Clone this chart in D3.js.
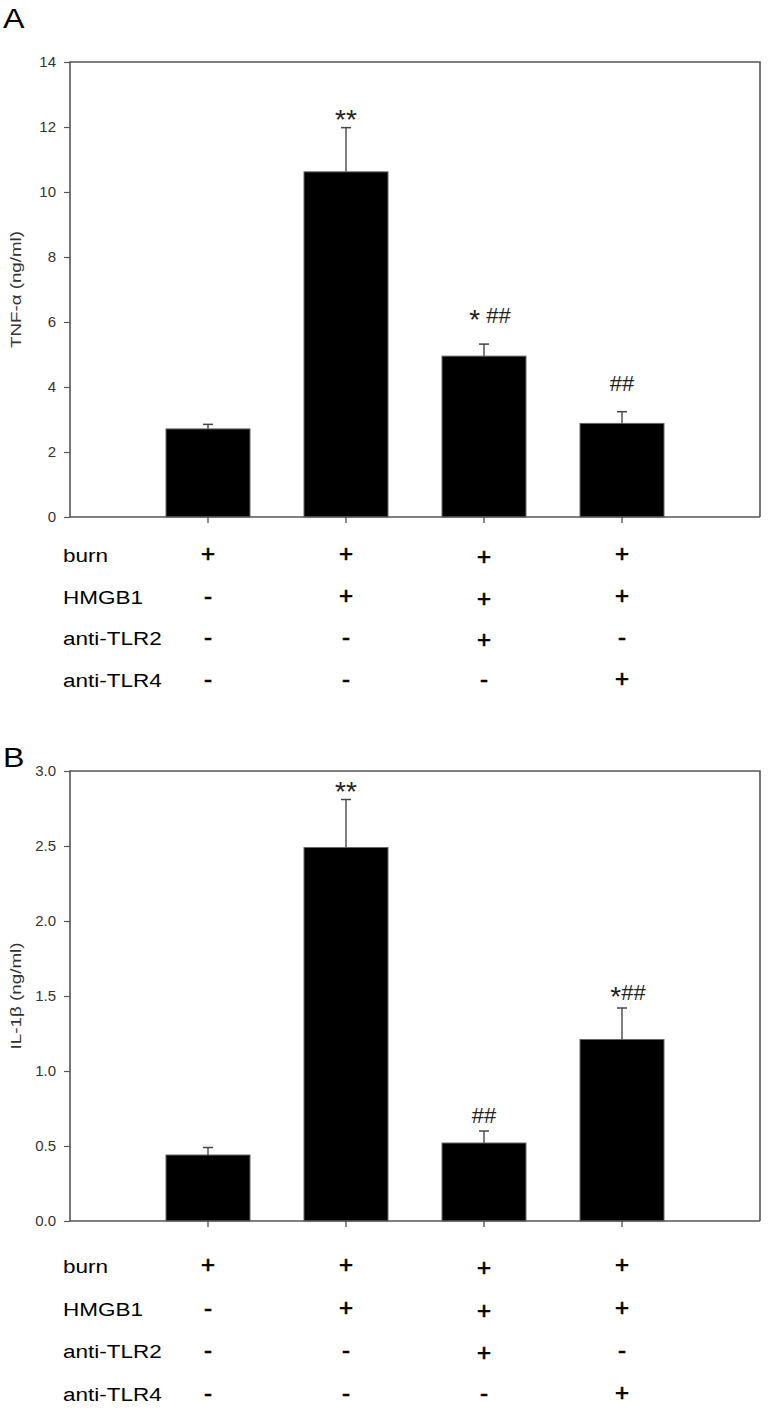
<!DOCTYPE html>
<html>
<head>
<meta charset="utf-8">
<script src="https://cdn.jsdelivr.net/npm/d3@7"></script>
<style>
  body { margin: 0; background: #fff; }
  text { font-family: "Liberation Sans", Arial, sans-serif; }
</style>
</head>
<body>
<div id="chart"></div>
<script>
// values
const groups = [1, 2, 3, 4];
const tnfMean = [2.71, 10.62, 4.95, 2.88];
const tnfErr = [0.14, 1.36, 0.37, 0.36];
const tnfMarks = ["", "**", "* ##", "##"];
const tnfTicks = [0, 2, 4, 6, 8, 10, 12, 14];

const ilMean = [0.44, 2.49, 0.52, 1.21];
const ilErr = [0.05, 0.32, 0.08, 0.21];
const ilMarks = ["", "**", "##", "*##"];
const ilTicks = [0, 0.5, 1.0, 1.5, 2.0, 2.5, 3.0];

const rowLabels = ["burn", "HMGB1", "anti-TLR2", "anti-TLR4"];
const treatments = [
  ["+", "+", "+", "+"],
  ["-", "+", "+", "+"],
  ["-", "-", "+", "-"],
  ["-", "-", "-", "+"]
];

const [width, height] = [768, 1413];

const svg = d3.select("#chart")
  .append("svg")
  .attr("width", width)
  .attr("height", height);

const x = d3.scaleLinear()
  .domain([0, 5])
  .range([70, 760]);

const barW = 84;

const panels = [
  { letter: "A", letterY: 28, top: 62, bottom: 517, max: 14, ticks: tnfTicks, fmt: d3.format("d"),
    title: "TNF-α (ng/ml)", titleLen: 117, mean: tnfMean, err: tnfErr, marks: tnfMarks,
    markGap: 21, rowStart: 45, rowStep: 41.7 },
  { letter: "B", letterY: 767, top: 771, bottom: 1221, max: 3, ticks: ilTicks, fmt: d3.format(".1f"),
    title: "IL-1β (ng/ml)", titleLen: 107, mean: ilMean, err: ilErr, marks: ilMarks,
    markGap: 8, rowStart: 52, rowStep: 42.7 }
];

panels.forEach(p => {
  const y = d3.scaleLinear()
    .domain([0, p.max])
    .range([p.bottom, p.top]);

  const g = svg.append("g");

  // panel letter
  g.append("text")
    .attr("transform", `translate(3,${p.letterY}) scale(1.15,1)`)
    .attr("font-size", 28)
    .attr("fill", "#000")
    .text(p.letter);

  // y axis
  const yAxis = d3.axisLeft(y)
    .tickValues(p.ticks)
    .tickFormat(p.fmt)
    .tickSize(6)
    .tickPadding(8);
  const ya = g.append("g")
    .attr("transform", "translate(70,0)")
    .call(yAxis);
  ya.select(".domain").remove();
  ya.selectAll(".tick line").attr("stroke", "#555").attr("stroke-width", 1.2);
  ya.selectAll(".tick text")
    .attr("font-size", 15)
    .attr("fill", "#333")
    .attr("font-family", "'Liberation Sans', Arial, sans-serif");

  // bars
  g.selectAll("rect.bar")
    .data(groups)
    .enter().append("rect")
    .attr("class", "bar")
    .attr("x", d => x(d) - barW / 2)
    .attr("width", barW)
    .attr("y", (d, i) => y(p.mean[i]))
    .attr("height", (d, i) => y(0) - y(p.mean[i]))
    .attr("fill", "#000")
    .attr("stroke", "#666")
    .attr("stroke-width", 1);

  // error bars
  g.selectAll("line.err")
    .data(groups)
    .enter().append("line")
    .attr("class", "err")
    .attr("x1", d => x(d))
    .attr("x2", d => x(d))
    .attr("y1", (d, i) => y(p.mean[i]))
    .attr("y2", (d, i) => y(p.mean[i] + p.err[i]))
    .attr("stroke", "#555")
    .attr("stroke-width", 1.5);
  g.selectAll("line.cap")
    .data(groups)
    .enter().append("line")
    .attr("class", "cap")
    .attr("x1", d => x(d) - 5)
    .attr("x2", d => x(d) + 5)
    .attr("y1", (d, i) => y(p.mean[i] + p.err[i]))
    .attr("y2", (d, i) => y(p.mean[i] + p.err[i]))
    .attr("stroke", "#444")
    .attr("stroke-width", 1.5);

  // significance marks, asterisks a bit larger than the hashes
  // (dy only, so the whole mark stays one text chunk for centring)
  g.selectAll("text.mark")
    .data(groups)
    .enter().append("text")
    .attr("class", "mark")
    .attr("x", (d, i) => x(d) + (p.marks[i].length > 2 ? 6 : 0))
    .attr("text-anchor", "middle")
    .attr("fill", "#222")
    .each(function (d, i) {
      const m = p.marks[i];
      const hasHash = m.includes("#");
      const base = y(p.mean[i] + p.err[i]) - (hasHash ? p.markGap : -1);
      const t = d3.select(this).attr("y", base);
      let cur = 0;
      m.split("").forEach(c => {
        const want = (c === "*" && hasHash) ? 6 : 0;
        t.append("tspan")
          .attr("font-size", c === "*" ? 28 : 22)
          .attr("dy", want - cur)
          .text(c);
        cur = want;
      });
    });

  // frame: top and right lines, baseline
  const frame = g.append("g")
    .attr("stroke", "#555")
    .attr("stroke-width", 1.6)
    .attr("fill", "none");
  frame.append("path")
    .attr("d", `M${x(0)},${y(0)}V${y(p.max)}H${x(5)}V${y(0)}`);
  frame.append("line")
    .attr("x1", x(0)).attr("x2", x(5))
    .attr("y1", y(0)).attr("y2", y(0));

  // category ticks below the baseline
  g.selectAll("line.xt")
    .data(groups)
    .enter().append("line")
    .attr("class", "xt")
    .attr("x1", d => x(d)).attr("x2", d => x(d))
    .attr("y1", y(0)).attr("y2", y(0) + 6)
    .attr("stroke", "#444")
    .attr("stroke-width", 1.2);

  // y title
  g.append("text")
    .attr("transform", `translate(21,${(y(0) + y(p.max)) / 2}) rotate(-90)`)
    .attr("text-anchor", "middle")
    .attr("font-size", 15)
    .attr("fill", "#333")
    .attr("textLength", p.titleLen)
    .attr("lengthAdjust", "spacingAndGlyphs")
    .text(p.title);

  // treatment table
  rowLabels.forEach((lab, r) => {
    const ry = y(0) + p.rowStart + r * p.rowStep;
    g.append("text")
      .attr("transform", `translate(63,${ry}) scale(1.25,1)`)
      .attr("font-size", 18)
      .attr("fill", "#000")
      .text(lab);
    g.selectAll(null)
      .data(groups)
      .enter().append("text")
      .attr("x", d => x(d))
      .attr("y", (d, i) => ry + (treatments[r][i] === "+" && i === 2 ? 3 : 0))
      .attr("text-anchor", "middle")
      .attr("font-size", 24)
      .attr("fill", "#000")
      .attr("stroke", "#000")
      .attr("stroke-width", 0.7)
      .text((d, i) => treatments[r][i]);
  });
});
</script>
</body>
</html>
